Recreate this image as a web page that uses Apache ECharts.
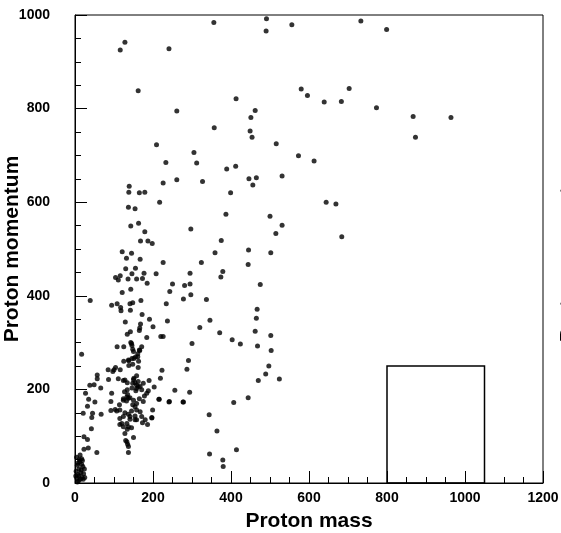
<!DOCTYPE html>
<html>
<head>
<meta charset="utf-8">
<script src="https://cdn.jsdelivr.net/npm/echarts@6/dist/echarts.min.js"></script>
<style>
  html, body { margin: 0; padding: 0; background: #fff; }
  #chart { width: 561px; height: 533px; }
</style>
</head>
<body>
<div id="chart"></div>
<script>
// [proton mass, proton momentum], grouped by area
var upperPoints = [
  [116, 925], [128, 942], [241, 928], [356, 984], [491, 992], [490, 966], [162, 838], [413, 821],
  [261, 795], [462, 796], [451, 781], [357, 759], [449, 752], [454, 739], [516, 725], [209, 723],
  [305, 706], [312, 684], [233, 685], [412, 677], [389, 671], [261, 648], [226, 641], [327, 644],
  [446, 650], [465, 652], [456, 637], [139, 634], [138, 621], [165, 620], [179, 621], [399, 620],
  [217, 600], [137, 589], [154, 586], [387, 574], [500, 570], [163, 555], [143, 549], [297, 543],
  [179, 537], [515, 533], [168, 517], [187, 517], [198, 512], [375, 518], [121, 494], [145, 491],
  [359, 492], [445, 498], [502, 492], [132, 480], [167, 478]
];
var rightPoints = [
  [556, 979], [733, 987], [799, 969], [580, 842], [596, 828], [639, 814], [683, 815], [703, 843],
  [773, 802], [867, 783], [964, 781], [873, 739], [573, 699], [613, 688], [531, 656], [644, 600],
  [669, 596], [531, 551], [684, 526]
];
var midPoints = [
  [226, 471], [324, 471], [444, 467], [130, 458], [155, 459], [104, 439], [111, 434], [116, 443],
  [136, 436], [146, 447], [158, 436], [173, 437], [177, 448], [185, 427], [208, 447], [250, 425],
  [295, 448], [281, 422], [295, 425], [297, 402], [278, 393], [243, 409], [234, 383], [237, 346],
  [200, 334], [191, 350], [374, 440], [379, 452], [475, 424], [337, 392], [346, 348], [320, 332],
  [371, 321], [403, 306], [424, 297], [467, 371], [465, 352], [462, 324], [468, 293], [502, 315],
  [503, 283], [497, 250], [489, 233], [470, 219], [524, 222], [444, 182], [407, 172], [291, 262],
  [287, 243], [300, 298], [294, 194], [277, 173], [256, 198], [241, 173], [215, 179], [223, 241],
  [219, 224], [226, 313], [220, 313], [344, 146], [364, 111], [345, 62], [414, 71], [379, 49],
  [380, 35], [121, 407], [143, 414], [169, 390], [39, 390], [94, 380], [108, 383], [117, 375],
  [141, 383], [148, 385], [216, 179], [242, 174], [278, 173], [199, 156], [197, 139], [203, 205]
];
var clusterPoints = [
  [118, 368], [142, 369], [172, 360], [129, 344], [168, 340], [166, 331], [165, 326], [142, 323],
  [134, 318], [184, 311], [17, 275], [108, 291], [125, 291], [143, 300], [146, 294], [148, 286],
  [171, 291], [166, 283], [161, 276], [155, 269], [146, 266], [138, 261], [125, 260], [163, 260],
  [148, 254], [138, 251], [162, 247], [116, 242], [100, 242], [85, 242], [97, 238], [57, 231],
  [57, 223], [86, 221], [111, 223], [124, 219], [134, 214], [150, 221], [154, 214], [162, 217],
  [158, 209], [190, 219], [38, 209], [49, 210], [66, 203], [94, 192], [134, 199], [146, 203],
  [156, 197], [167, 206], [188, 197], [27, 192], [135, 189], [35, 179], [51, 173], [92, 174],
  [124, 180], [132, 175], [141, 182], [150, 177], [158, 170], [165, 180], [21, 149], [45, 149],
  [43, 140], [67, 147], [92, 155], [107, 154], [103, 157], [115, 156], [128, 150], [124, 142],
  [137, 147], [145, 154], [154, 143], [141, 136], [158, 135], [171, 142], [173, 129], [197, 140],
  [186, 125], [115, 125], [124, 120], [134, 115], [145, 118], [42, 116], [23, 99], [32, 93],
  [150, 97], [130, 91], [135, 83], [137, 65], [34, 75], [23, 72], [56, 65], [17, 52],
  [150, 281], [151, 266], [161, 270], [165, 284], [145, 298], [137, 263], [104, 247], [128, 220],
  [151, 224], [158, 229], [148, 213], [158, 202], [162, 206], [175, 213], [171, 199], [178, 186],
  [184, 192], [127, 195], [133, 184], [124, 177], [114, 167], [137, 181], [148, 167], [154, 163],
  [158, 156], [167, 152], [175, 174], [180, 135], [154, 135], [141, 142], [115, 138], [120, 127],
  [133, 127], [137, 120], [128, 106], [133, 88], [137, 78], [32, 164]
];
var originPoints = [
  [5, 10], [8, 18], [3, 25], [10, 30], [6, 38], [12, 45], [15, 22], [18, 12], [20, 35], [4, 55],
  [9, 5], [14, 8], [22, 20], [25, 12], [11, 50], [7, 42], [16, 28], [2, 15], [19, 48], [24, 30],
  [13, 60], [6, 2], [21, 8], [17, 40], [10, 15]
];

// the empty box drawn in the lower right
var boxMass = [800, 1050];
var boxMomentum = [0, 250];

var massRange = [0, 1200];
var momentumRange = [0, 1000];
var tickStep = 200;

var allPoints = upperPoints.concat(rightPoints, midPoints, clusterPoints, originPoints);

var font = "'Liberation Sans', Arial, Helvetica, sans-serif";

var chart = echarts.init(document.getElementById('chart'));

function axisStyle() {
  return {
    axisLine: { show: true, lineStyle: { color: '#000', width: 1 } },
    axisTick: { show: true, inside: true, length: 12, lineStyle: { color: '#000', width: 1 } },
    minorTick: { show: true, splitNumber: 4, length: 6, lineStyle: { color: '#000', width: 1 } },
    splitLine: { show: false },
    nameMoveOverlap: false,
    nameTextStyle: { color: '#000', fontFamily: font, fontWeight: 'bold', fontSize: 21 }
  };
}

function plainLabel(v) {
  return String(v);
}

var xAxis = Object.assign(axisStyle(), {
  type: 'value',
  min: massRange[0],
  max: massRange[1],
  interval: tickStep,
  name: 'Proton mass',
  nameLocation: 'middle',
  nameGap: 28,
  axisLabel: { color: '#000', fontFamily: font, fontWeight: 'bold', fontSize: 14, margin: 8, formatter: plainLabel }
});

var yAxis = Object.assign(axisStyle(), {
  type: 'value',
  min: momentumRange[0],
  max: momentumRange[1],
  interval: tickStep,
  name: 'Proton momentum',
  nameLocation: 'middle',
  nameGap: 52,
  axisLabel: { color: '#000', fontFamily: font, fontWeight: 'bold', fontSize: 14, margin: 25, formatter: plainLabel }
});

var option = {
  backgroundColor: '#fff',
  animation: false,
  grid: {
    left: 75, right: 18, top: 15, bottom: 50,
    containLabel: false,
    outerBoundsMode: 'none',
    show: true, borderColor: '#000', borderWidth: 1
  },
  xAxis: xAxis,
  yAxis: yAxis,
  // label of the neighbouring panel, cut off by the right edge
  graphic: [{
    type: 'text',
    x: 558,
    y: 249,
    rotation: Math.PI / 2,
    silent: true,
    style: {
      text: 'Proton momentum',
      font: 'bold 21px ' + font,
      fill: '#000',
      align: 'center',
      verticalAlign: 'top'
    }
  }],
  series: [{
    type: 'scatter',
    symbol: 'circle',
    symbolSize: 5,
    itemStyle: { color: '#000' },
    data: allPoints,
    markArea: {
      silent: true,
      itemStyle: { color: 'rgba(0,0,0,0)', borderColor: '#000', borderWidth: 1.5 },
      data: [[
        { xAxis: boxMass[0], yAxis: boxMomentum[0] },
        { xAxis: boxMass[1], yAxis: boxMomentum[1] }
      ]]
    }
  }]
};

chart.setOption(option);
</script>
</body>
</html>
